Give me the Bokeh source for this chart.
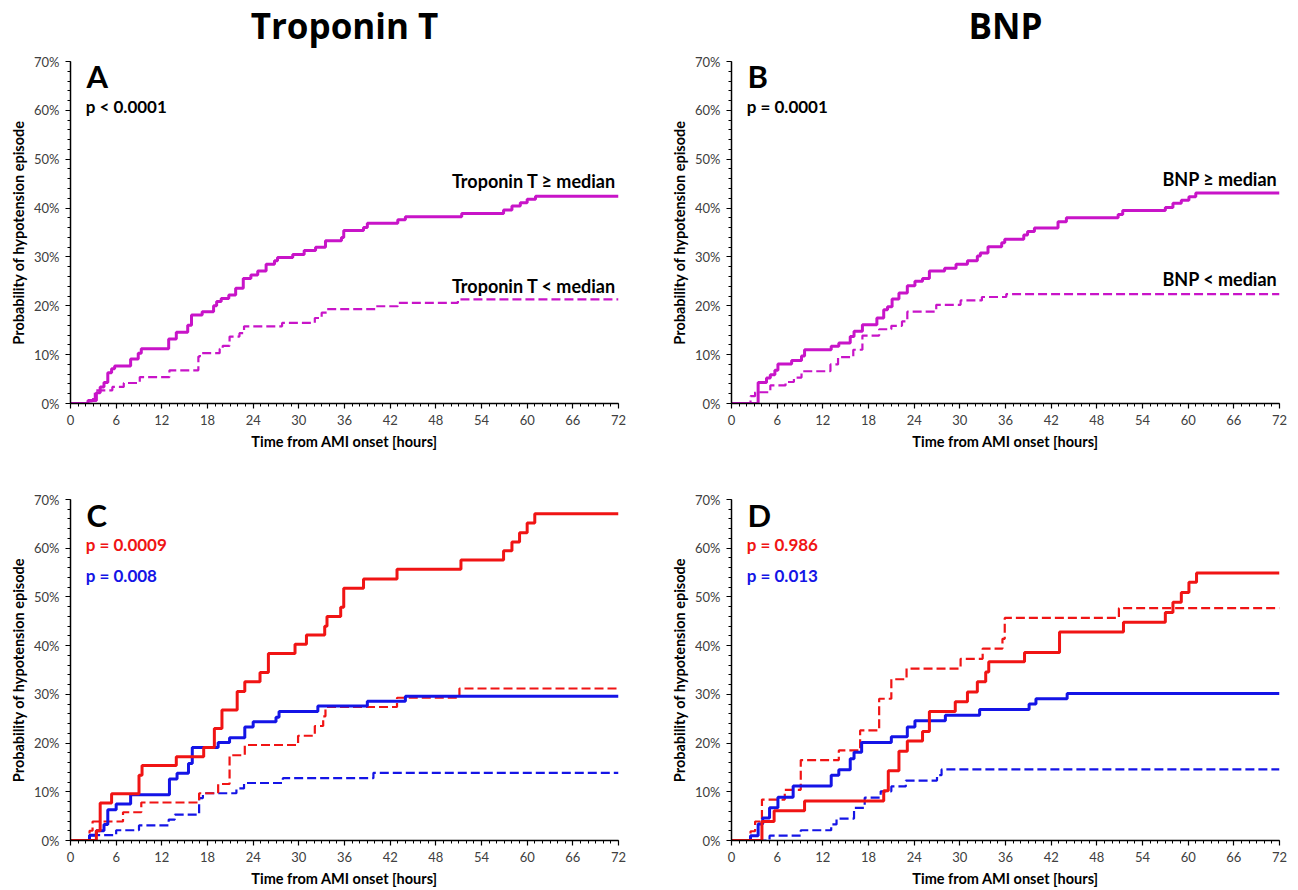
from bokeh.plotting import figure
from bokeh.layouts import column, row
from bokeh.models import Range1d, FixedTicker, PrintfTickFormatter, Label
from bokeh.core.properties import value
from bokeh.embed import file_html
from bokeh.resources import INLINE

# ---------------- data (hours, cumulative probability in %) ----------------
x_major_ticks = [0, 6, 12, 18, 24, 30, 36, 42, 48, 54, 60, 66, 72]
y_major_ticks = [0, 10, 20, 30, 40, 50, 60, 70]
panel_titles = ["Troponin T", "BNP"]

# Panel A: Troponin T
a_high_t = [0, 2.3, 3.4, 3.9, 4.4, 4.9, 5.4, 5.8, 7.9, 8.9, 9.3, 12.9, 13.9, 15.4, 15.9, 17.3,
            18.8, 19.2, 19.8, 20.8, 21.7, 22.7, 23.7, 24.6, 25.7, 26.8, 27.2, 29.2, 30.7, 32.2,
            33.5, 35.6, 35.9, 38.5, 39.0, 43.0, 44.0, 51.4, 56.9, 58.0, 59.1, 60.0, 61.1, 72]
a_high_p = [0, 0.6, 2.2, 3.4, 4.3, 6.3, 7.1, 7.7, 9.1, 10.3, 11.2, 13.2, 14.6, 16.0, 18.1, 18.8,
            20.0, 20.9, 21.5, 22.2, 23.6, 25.6, 26.3, 27.1, 28.5, 29.2, 29.9, 30.5, 31.3, 32.0,
            33.3, 34.0, 35.4, 36.0, 36.9, 37.6, 38.2, 38.9, 39.6, 40.4, 41.1, 41.8, 42.4, 42.4]
a_low_t = [0, 2.8, 3.2, 5.5, 7.0, 9.1, 13.0, 16.8, 17.0, 19.6, 20.0, 20.9, 22.2, 22.8, 27.8,
           32.1, 33.0, 33.7, 40.1, 43.0, 50.9, 72]
a_low_p = [0, 0.9, 2.7, 3.4, 4.2, 5.4, 6.8, 9.6, 10.3, 11.2, 11.8, 13.7, 14.4, 15.8, 16.5,
           17.5, 18.6, 19.3, 19.9, 20.6, 21.3, 21.3]

# Panel B: BNP
b_high_t = [0, 3.5, 4.6, 5.1, 5.7, 6.1, 7.9, 9.2, 9.6, 13.1, 14.1, 15.6, 16.1, 17.2, 19.1, 20.0,
            20.5, 21.1, 22.0, 23.1, 24.1, 25.1, 26.0, 28.0, 29.5, 31.0, 32.3, 32.7, 33.7, 35.5,
            35.9, 38.4, 38.9, 39.8, 42.9, 44.0, 50.8, 51.4, 57.0, 58.0, 59.1, 60.1, 61.0, 72]
b_high_p = [0, 4.3, 5.2, 5.9, 6.8, 8.1, 8.8, 9.7, 11.0, 11.7, 12.4, 13.7, 14.8, 16.1, 17.5, 19.2,
            19.8, 21.4, 22.6, 24.1, 25.0, 25.6, 27.1, 27.7, 28.5, 29.2, 30.2, 30.8, 32.1, 32.9,
            33.6, 34.5, 35.2, 35.9, 37.2, 38.0, 38.7, 39.5, 40.1, 41.0, 41.6, 42.3, 43.1, 43.1]
b_low_t = [0, 2.5, 3.1, 5.1, 7.1, 8.2, 9.2, 13.0, 14.0, 16.0, 17.2, 19.4, 21.0, 22.4, 23.1,
           26.9, 30.1, 32.9, 36.1, 72]
b_low_p = [0, 1.5, 2.3, 3.7, 4.4, 5.3, 6.6, 8.0, 9.5, 11.0, 13.9, 15.2, 15.9, 16.8, 18.8,
           20.2, 21.1, 21.8, 22.4, 22.4]

# Panel C: Troponin T by subgroup (red / blue, solid = >= median, dashed = < median)
c_red_high_t = [0, 3.4, 3.9, 5.4, 9.0, 9.4, 13.9, 17.5, 18.9, 19.9, 21.9, 22.9, 24.9, 26.0, 29.5,
                31.0, 33.4, 33.7, 35.5, 35.9, 38.5, 42.9, 51.3, 56.9, 58.0, 59.0, 60.0, 61.0, 72]
c_red_high_p = [0, 2.0, 7.7, 9.6, 13.4, 15.4, 17.2, 19.1, 23.0, 26.8, 30.6, 32.6, 34.5, 38.4, 40.3,
                42.2, 44.0, 46.0, 47.9, 51.8, 53.7, 55.7, 57.6, 59.5, 61.3, 63.2, 65.2, 67.1, 67.1]
c_blue_high_t = [0, 2.5, 3.4, 4.4, 4.9, 6.0, 7.9, 13.0, 14.0, 15.5, 16.0, 19.4, 20.9, 22.9, 24.0,
                 27.0, 27.4, 32.5, 39.0, 44.0, 72]
c_blue_high_p = [0, 1.1, 2.0, 3.3, 6.3, 7.5, 9.4, 12.6, 13.8, 15.8, 19.1, 20.1, 21.1, 23.3, 24.4,
                 25.3, 26.5, 27.6, 28.6, 29.6, 29.6]
c_red_low_t = [0, 2.5, 2.9, 6.9, 9.3, 16.9, 19.4, 20.9, 22.9, 29.9, 32.1, 33.2, 33.5, 42.9, 51.1, 72]
c_red_low_p = [0, 2.0, 3.9, 5.8, 7.8, 9.7, 11.6, 17.5, 19.6, 21.5, 23.5, 25.5, 27.4, 29.3, 31.2, 31.2]
c_blue_low_t = [0, 2.5, 6.0, 9.0, 12.9, 13.7, 16.9, 17.4, 21.8, 22.8, 27.9, 39.8, 72]
c_blue_low_p = [0, 1.1, 2.1, 3.1, 4.3, 5.3, 8.7, 9.7, 10.7, 11.8, 12.8, 13.9, 13.9]

# Panel D: BNP by subgroup
d_red_high_t = [0, 4.0, 5.6, 9.6, 20.0, 20.6, 22.0, 23.1, 25.1, 26.0, 29.4, 31.0, 32.3, 33.4, 33.8,
                38.5, 43.1, 51.5, 57.0, 58.0, 59.1, 60.1, 61.1, 72]
d_red_high_p = [0, 3.9, 6.1, 8.1, 10.2, 14.3, 18.3, 20.4, 22.4, 26.5, 28.5, 30.5, 32.6, 34.6, 36.7,
                38.6, 42.8, 44.8, 46.8, 48.9, 50.9, 53.0, 54.9, 54.9]
d_blue_high_t = [0, 2.5, 3.5, 4.1, 5.0, 6.1, 8.1, 13.1, 14.1, 15.6, 16.1, 17.1, 21.0, 23.1, 24.1,
                 28.1, 32.6, 39.1, 40.0, 44.1, 72]
d_blue_high_p = [0, 1.0, 3.4, 4.6, 6.7, 8.9, 11.2, 13.4, 14.5, 16.8, 18.1, 20.1, 21.3, 23.3, 24.6,
                 25.7, 26.9, 28.0, 29.1, 30.2, 30.2]
d_red_low_t = [0, 2.5, 3.1, 4.0, 7.0, 9.1, 14.1, 16.9, 19.4, 21.0, 23.0, 30.1, 33.0, 35.6, 35.9, 50.9, 72]
d_red_low_p = [0, 1.9, 3.9, 8.4, 10.4, 16.5, 18.5, 22.6, 29.1, 33.1, 35.3, 37.3, 39.4, 41.4, 45.7, 47.7, 47.7]
d_blue_low_t = [0, 5.0, 9.1, 13.1, 13.8, 16.1, 17.5, 19.6, 21.0, 22.9, 27.0, 27.6, 72]
d_blue_low_p = [0, 1.0, 2.1, 3.3, 4.5, 6.7, 8.8, 10.1, 11.1, 12.3, 13.4, 14.6, 14.6]

MAGENTA = "#C814C8"
RED = "#F01414"
BLUE = "#1414E6"
FONT = "Lato"
TITLE_FONT = "Open Sans"

LEFT_W, RIGHT_W = 660, 636
BORDERS_LEFT = (70, 42)   # (left, right) min borders for left column
BORDERS_RIGHT = (71, 17)  # for right column


def make_title_strip(width, borders, text):
    s = figure(width=width, height=48, x_range=Range1d(0, 72), y_range=Range1d(0, 48),
               output_backend="svg", toolbar_location=None, title=None,
               x_axis_location=None, y_axis_location=None,
               min_border_left=borders[0], min_border_right=borders[1],
               min_border_top=0, min_border_bottom=0)
    s.outline_line_color = None
    s.xgrid.visible = False
    s.ygrid.visible = False
    s.text(x=[36], y=[22.8], text=[text], text_font=value(TITLE_FONT), text_font_size="35px",
           text_font_style="bold", text_color="black", text_align="center",
           text_baseline="alphabetic")
    return s


def make_panel(width, height, borders, bt, bb):
    p = figure(width=width, height=height, x_range=Range1d(0, 72), y_range=Range1d(0, 70),
               output_backend="svg", toolbar_location=None, title=None,
               min_border_left=borders[0], min_border_right=borders[1],
               min_border_top=bt, min_border_bottom=bb)
    p.outline_line_color = None
    p.xgrid.visible = False
    p.ygrid.visible = False
    p.background_fill_color = "white"
    p.border_fill_color = "white"
    p.xaxis.ticker = FixedTicker(ticks=x_major_ticks, minor_ticks=list(range(0, 73)))
    p.yaxis.ticker = FixedTicker(ticks=y_major_ticks, minor_ticks=list(range(0, 71, 2)))
    p.yaxis.formatter = PrintfTickFormatter(format="%d%%")
    for ax in (p.xaxis, p.yaxis):
        ax.axis_line_color = "black"
        ax.axis_line_width = 1.5
        ax.major_tick_line_color = "black"
        ax.minor_tick_line_color = "black"
        ax.major_tick_line_width = 1.2
        ax.minor_tick_line_width = 1
        ax.major_tick_in = 0
        ax.major_tick_out = 5
        ax.minor_tick_in = 0
        ax.minor_tick_out = 3
        ax.major_label_text_font = FONT
        ax.major_label_text_font_size = "13px"
        ax.major_label_text_color = "#404040"
        ax.axis_label_text_font = FONT
        ax.axis_label_text_font_size = "14.5px"
        ax.axis_label_text_font_style = "bold"
        ax.axis_label_text_color = "black"
    p.xaxis.major_label_standoff = 6
    p.yaxis.major_label_standoff = 6
    p.xaxis.axis_label_standoff = 5
    p.yaxis.axis_label_standoff = 4
    p.xaxis.axis_label = "Time from AMI onset [hours]"
    p.yaxis.axis_label = "Probability of hypotension episode"
    return p


def add_text(p, x, y, text, size, color="black", align="left"):
    p.add_layout(Label(x=x, y=y, text=text, text_font=FONT, text_font_size=size,
                       text_font_style="bold", text_color=color, text_align=align,
                       text_baseline="alphabetic"))


def curve(p, t, v, color, dashed):
    if dashed:
        p.step(t, v, mode="after", line_color=color, line_width=2.2, line_dash="9 4")
    else:
        p.step(t, v, mode="after", line_color=color, line_width=3)


ta = make_title_strip(LEFT_W, BORDERS_LEFT, panel_titles[0])
tb = make_title_strip(RIGHT_W, BORDERS_RIGHT, panel_titles[1])
pa = make_panel(LEFT_W, 404, BORDERS_LEFT, 13, 48)
pb = make_panel(RIGHT_W, 404, BORDERS_RIGHT, 13, 48)
pc = make_panel(LEFT_W, 437, BORDERS_LEFT, 47, 48)
pd = make_panel(RIGHT_W, 437, BORDERS_RIGHT, 47, 48)

# A
curve(pa, a_low_t, a_low_p, MAGENTA, True)
curve(pa, a_high_t, a_high_p, MAGENTA, False)
add_text(pa, 2.1, 67.0, "A", "31px")
add_text(pa, 2.0, 60.85, "p < 0.0001", "17px")
add_text(pa, 71.7, 45.5, "Troponin T \u2265 median", "18px", align="right")
add_text(pa, 71.7, 24.0, "Troponin T < median", "18px", align="right")

# B
curve(pb, b_low_t, b_low_p, MAGENTA, True)
curve(pb, b_high_t, b_high_p, MAGENTA, False)
add_text(pb, 2.1, 67.0, "B", "31px")
add_text(pb, 2.0, 60.85, "p = 0.0001", "17px")
add_text(pb, 71.7, 46.0, "BNP \u2265 median", "18px", align="right")
add_text(pb, 71.7, 25.5, "BNP < median", "18px", align="right")

# C
curve(pc, c_blue_low_t, c_blue_low_p, BLUE, True)
curve(pc, c_red_low_t, c_red_low_p, RED, True)
curve(pc, c_blue_high_t, c_blue_high_p, BLUE, False)
curve(pc, c_red_high_t, c_red_high_p, RED, False)
add_text(pc, 2.1, 66.9, "C", "31px")
add_text(pc, 2.0, 60.75, "p = 0.0009", "17px", color=RED)
add_text(pc, 2.0, 54.35, "p = 0.008", "17px", color=BLUE)

# D
curve(pd, d_blue_low_t, d_blue_low_p, BLUE, True)
curve(pd, d_red_low_t, d_red_low_p, RED, True)
curve(pd, d_blue_high_t, d_blue_high_p, BLUE, False)
curve(pd, d_red_high_t, d_red_high_p, RED, False)
add_text(pd, 2.1, 66.9, "D", "31px")
add_text(pd, 2.0, 60.75, "p = 0.986", "17px", color=RED)
add_text(pd, 2.0, 54.35, "p = 0.013", "17px", color=BLUE)

layout = column(row(ta, tb), row(pa, pb), row(pc, pd))
open("out.html", "w").write(file_html(layout, INLINE))
